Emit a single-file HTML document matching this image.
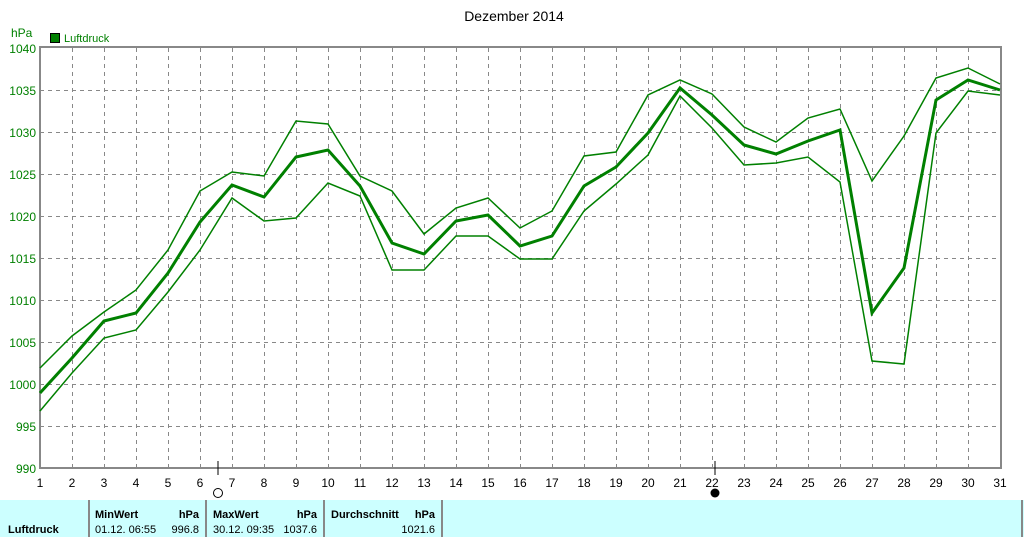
<!DOCTYPE html>
<html><head><meta charset="utf-8"><style>
body{margin:0;background:#fff;width:1024px;height:537px;overflow:hidden;font-family:"Liberation Sans",sans-serif}
</style></head><body>
<svg width="1024" height="537" xmlns="http://www.w3.org/2000/svg" font-family="Liberation Sans, sans-serif" font-size="11">
<rect width="1024" height="537" fill="#fff"/>
<text x="514" y="21" text-anchor="middle" font-size="14">Dezember 2014</text>
<text x="11" y="37" fill="#008000" font-size="12">hPa</text>
<rect x="50.5" y="33.5" width="9" height="9" fill="#008000" stroke="#000"/>
<text x="64" y="42" fill="#008000">Luftdruck</text>
<g id="grid" stroke="#888" stroke-dasharray="4,4" stroke-width="1">
</g>
<g id="yl" fill="#008000" font-size="12" text-anchor="end"></g>
<g id="xl" font-size="12" text-anchor="middle"></g>
<path d="M40 47V468H1001V47Z" fill="none" stroke="#888" stroke-width="2"/>
<line x1="218" y1="461" x2="218" y2="475" stroke="#000"/>
<line x1="715" y1="461" x2="715" y2="475" stroke="#000"/>
<circle cx="218" cy="493" r="4.5" fill="none" stroke="#000"/>
<circle cx="715" cy="493" r="4.5" fill="#000"/>
<g fill="none" stroke="#008000">
<polyline id="mx" stroke-width="1.5"/>
<polyline id="av" stroke-width="3"/>
<polyline id="mn" stroke-width="1.5"/>
</g>
<rect x="0" y="500" width="1024" height="37" fill="#ccffff"/>
<g stroke="#888" stroke-width="2"><line x1="89" y1="500" x2="89" y2="537"/><line x1="206" y1="500" x2="206" y2="537"/><line x1="324" y1="500" x2="324" y2="537"/><line x1="442" y1="500" x2="442" y2="537"/><line x1="1022" y1="500" x2="1022" y2="537"/></g>
<g font-weight="bold" font-size="11">
<text x="8" y="533">Luftdruck</text>
<text x="95" y="518">MinWert</text><text x="199" y="518" text-anchor="end">hPa</text>
<text x="213" y="518">MaxWert</text><text x="317" y="518" text-anchor="end">hPa</text>
<text x="331" y="518">Durchschnitt</text><text x="435" y="518" text-anchor="end">hPa</text>
</g>
<text x="95" y="533">01.12.  06:55</text><text x="199" y="533" text-anchor="end">996.8</text>
<text x="213" y="533">30.12.  09:35</text><text x="317" y="533" text-anchor="end">1037.6</text>
<text x="435" y="533" text-anchor="end">1021.6</text>
</svg>
<script>
var ns="http://www.w3.org/2000/svg";
function el(p,t,a,txt){var e=document.createElementNS(ns,t);for(var k in a)e.setAttribute(k,a[k]);if(txt)e.textContent=txt;document.getElementById(p).appendChild(e);}
for(var i=1;i<=10;i++){var y=48+i*42;if(i<10)el("grid","line",{x1:40,x2:1000,y1:y+.5,y2:y+.5});}
for(var i=0;i<=10;i++){var y=48+i*42;el("yl","text",{x:36,y:y+5},String(1040-5*i));}
for(var d=1;d<=31;d++){var x=40+(d-1)*32;if(d>1&&d<31)el("grid","line",{x1:x+.5,x2:x+.5,y1:48,y2:468});el("xl","text",{x:x,y:487},String(d));}
var mx=[368,336,312,290,250,191,172,176,121,124,176,191,234,208,198,228,211,156,152,95,80,94,127,142,118,109,181,136,78,68,84];
var av=[393,358,321,313,273,222,185,197,157,150,186,243,254,221,215,246,236,186,167,133,88,115,145,154,141,130,313,268,100,80,90];
var mn=[411,373,338,330,292,250,198,221,218,183,196,270,270,236,236,259,259,211,184,155,96,128,165,163,157,182,361,364,133,91,95];
function pts(a){return a.map(function(v,i){return (40+i*32)+","+v}).join(" ");}
document.getElementById("mx").setAttribute("points",pts(mx));
document.getElementById("av").setAttribute("points",pts(av));
document.getElementById("mn").setAttribute("points",pts(mn));
</script>
</body></html>
